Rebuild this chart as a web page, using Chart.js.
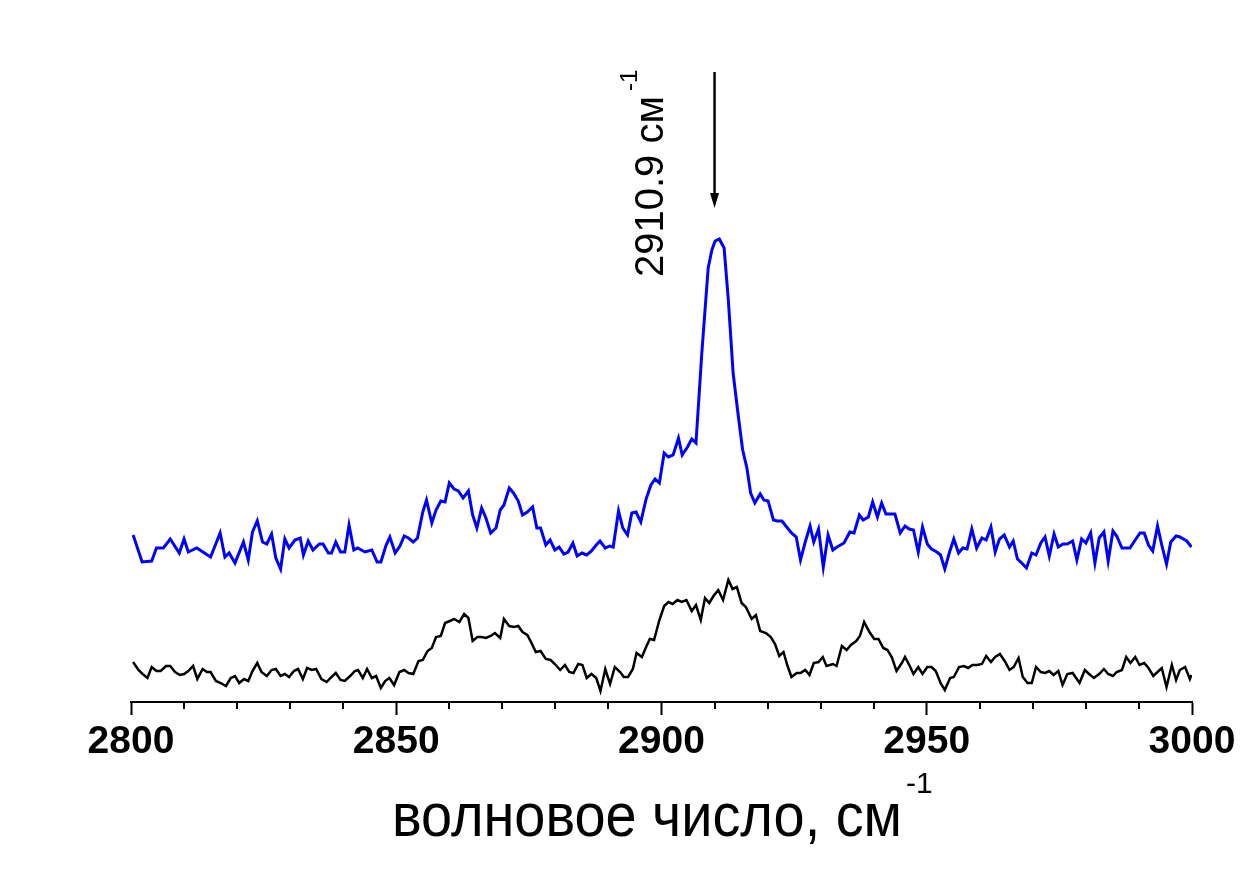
<!DOCTYPE html>
<html>
<head>
<meta charset="utf-8">
<title>Spectrum</title>
<script src="https://cdn.jsdelivr.net/npm/chart.js@4/dist/chart.umd.min.js"></script>
<style>
body{margin:0;background:#fff;}
#wrap{width:1251px;height:870px;position:relative;}
</style>
</head>
<body>
<div id="wrap"><canvas id="spectrumChart"></canvas></div>
<script>

// DATA (wavenumber, cm-1 / intensity, arb. units)
const blueWavenumber = [
2800.4,2802.1,2803.9,2804.8,2806.1,2807.4,2809.1,2810.0,2810.8,2812.4,
2815.0,2816.8,2817.7,2818.5,2819.6,2821.2,2822.1,2822.9,2823.8,2824.8,
2825.6,2826.5,2827.3,2828.2,2829.0,2829.8,2830.9,2831.9,2832.5,2833.4,
2834.3,2835.5,2836.2,2837.2,2837.8,2838.6,2839.5,2840.3,2841.1,2842.0,
2842.7,2844.1,2845.4,2846.4,2847.1,2848.1,2848.8,2849.8,2850.7,2851.5,
2852.3,2853.2,2854.0,2855.0,2855.7,2856.7,2857.5,2858.4,2859.2,2860.0,
2860.9,2861.7,2862.6,2863.6,2864.4,2865.2,2866.1,2866.9,2867.8,2868.8,
2869.6,2870.3,2871.3,2872.1,2873.0,2873.8,2874.7,2875.7,2876.5,2877.2,
2878.2,2879.0,2879.9,2880.7,2881.6,2882.4,2883.3,2884.1,2885.0,2885.9,
2886.8,2887.7,2888.4,2889.4,2890.2,2890.9,2891.9,2892.7,2893.6,2894.4,
2895.2,2896.1,2897.1,2898.0,2898.8,2899.6,2900.5,2901.3,2902.2,2903.2,
2903.9,2904.9,2905.7,2906.5,2907.6,2908.8,2909.5,2910.1,2910.9,2911.8,
2912.6,2913.5,2914.5,2915.3,2916.1,2916.8,2917.6,2918.6,2919.3,2920.1,
2921.1,2921.8,2922.7,2923.6,2924.5,2925.4,2926.2,2927.1,2928.0,2928.7,
2929.6,2930.5,2931.4,2932.3,2933.1,2934.4,2935.5,2936.3,2937.3,2938.0,
2939.0,2939.8,2940.7,2941.5,2942.3,2944.0,2945.0,2945.9,2946.7,2947.5,
2948.4,2949.2,2950.1,2950.9,2951.9,2952.6,2953.4,2954.3,2955.1,2956.0,
2956.8,2957.6,2958.5,2959.4,2960.4,2961.2,2962.1,2962.9,2963.7,2964.6,
2965.6,2966.3,2967.1,2967.9,2968.8,2969.8,2970.6,2971.5,2972.3,2973.1,
2974.0,2974.8,2975.7,2976.5,2977.5,2978.3,2979.2,2980.0,2980.9,2981.7,
2982.5,2983.4,2984.2,2985.1,2985.8,2986.8,2988.3,2989.3,2990.2,2991.0,
2991.8,2992.6,2993.5,2994.3,2995.2,2996.0,2997.0,2997.7,2999.0,2999.9
];
const blueIntensity = [
167,140,141,154,154,163,149,163,150,154,
145,169,145,149,139,160,142,170,181,160,
158,168,144,133,163,154,162,164,147,161,
152,158,158,149,149,160,150,150,177,152,
154,150,152,140,140,157,165,149,156,166,
164,160,164,190,202,179,192,201,200,219,
213,211,204,211,187,174,194,184,169,174,
192,197,214,209,201,187,190,195,174,174,
157,162,152,155,148,150,159,146,149,147,
151,157,161,154,156,155,191,174,167,189,
190,180,203,217,223,219,249,245,247,264,
247,255,263,259,349,434,452,461,463,454,
402,329,285,252,234,209,199,208,202,201,
182,181,181,175,169,165,142,160,176,160,
173,135,167,152,155,159,170,169,187,182,
185,200,185,199,188,188,169,176,173,172,
150,175,158,153,150,147,133,150,163,149,
154,153,173,154,164,162,175,150,163,167,
155,161,143,139,134,149,147,159,165,146,
168,155,158,158,161,142,163,159,169,139,
164,170,141,171,166,154,154,162,169,169,
157,151,176,157,138,160,166,165,161,155
];

const blackWavenumber = [
2800.4,2801.4,2802.2,2803.1,2803.9,2804.8,2805.6,2806.6,2807.4,2808.3,
2809.2,2810.0,2810.8,2811.7,2812.5,2813.5,2814.3,2815.0,2816.0,2816.9,
2817.9,2818.8,2819.6,2820.4,2821.3,2822.1,2822.9,2823.8,2824.6,2825.6,
2826.5,2827.3,2828.2,2829.0,2829.8,2830.7,2831.5,2832.4,2833.2,2834.1,
2834.9,2835.9,2836.9,2837.6,2838.6,2839.5,2840.3,2841.3,2842.2,2842.8,
2843.7,2844.5,2845.4,2846.2,2847.1,2847.9,2848.7,2849.6,2850.6,2851.5,
2852.3,2853.2,2854.2,2855.0,2855.9,2856.7,2857.5,2858.4,2859.2,2860.1,
2860.9,2861.9,2862.8,2863.6,2864.4,2865.3,2866.1,2866.9,2867.8,2868.6,
2869.6,2870.3,2871.3,2872.2,2873.0,2873.8,2874.7,2875.5,2876.3,2877.2,
2878.2,2879.1,2879.9,2880.9,2881.8,2882.6,2883.4,2884.3,2885.1,2885.9,
2886.8,2887.7,2888.5,2889.4,2890.3,2891.2,2892.2,2892.9,2893.7,2894.6,
2895.3,2896.3,2897.1,2897.8,2898.6,2899.6,2900.5,2901.3,2902.1,2903.0,
2903.8,2904.7,2905.7,2906.5,2907.4,2908.2,2909.0,2909.8,2910.7,2911.6,
2912.6,2913.4,2914.2,2915.1,2915.9,2917.0,2917.8,2918.6,2919.7,2920.6,
2921.4,2922.2,2923.0,2923.7,2924.5,2925.5,2926.2,2927.1,2927.9,2928.7,
2929.6,2930.4,2931.1,2932.3,2933.0,2934.0,2934.9,2935.7,2936.7,2937.4,
2938.2,2939.2,2940.1,2940.9,2941.8,2942.6,2943.4,2944.3,2945.3,2945.9,
2946.8,2947.5,2948.4,2949.2,2950.1,2950.9,2951.7,2952.6,2953.4,2954.4,
2955.1,2956.1,2957.0,2957.8,2958.6,2959.5,2960.4,2961.2,2962.1,2962.9,
2963.8,2964.8,2965.6,2966.4,2967.3,2968.1,2969.0,2969.8,2970.6,2971.5,
2972.3,2973.1,2973.9,2974.8,2975.6,2976.5,2977.5,2978.8,2979.8,2980.6,
2981.5,2982.5,2983.4,2984.2,2985.1,2985.8,2986.8,2987.6,2988.4,2989.3,
2990.1,2991.0,2991.8,2992.7,2993.5,2994.3,2995.2,2996.2,2997.0,2997.7,
2998.7,2999.6,2999.9
];
const blackIntensity = [
40,32,28,24,35,31,31,36,36,30,
27,28,31,36,23,33,30,30,21,19,
16,24,26,19,23,21,31,39,30,26,
32,33,26,28,25,31,33,23,34,32,
33,23,20,24,29,22,21,26,31,32,
24,33,24,26,14,21,24,17,30,32,
29,28,41,42,51,54,65,66,79,81,
83,80,88,84,61,65,65,64,66,69,
64,83,76,75,76,70,67,59,50,51,
43,42,38,32,37,30,29,38,37,24,
28,24,11,33,18,35,30,25,25,33,
49,45,55,63,62,82,96,100,98,102,
100,102,91,97,82,104,99,106,112,102,
122,113,115,99,95,83,87,71,69,65,
58,46,50,37,25,29,29,32,27,39,
40,45,36,38,36,56,52,57,61,66,
80,70,63,63,54,52,45,31,39,45,
36,28,35,28,35,35,31,19,12,24,
25,35,36,34,37,37,38,46,40,45,
48,40,32,35,44,25,19,19,35,30,
29,31,27,31,17,28,29,19,32,28,
24,28,33,28,26,30,32,45,39,45,
37,39,34,26,30,34,15,37,22,32,
35,23,27
];

const xTicks = [2800, 2850, 2900, 2950, 3000];
const xTitle = "волновое число, см";
const peakLabel = "2910.9 см";
const unitSup = "-1";

// annotation anchors (data units)
const arrowX = 2910;
const arrowTop = 630;
const arrowTip = 494;

const FONT = '"Liberation Sans", Arial, sans-serif';

// DECORATIONS: minor ticks, axis title, peak label + arrow
const decorations = {
id: "decorations",
afterDraw(chart){

const ctx = chart.ctx;
const xs = chart.scales.x;
const ys = chart.scales.y;
const base = chart.chartArea.bottom;

ctx.save();
ctx.strokeStyle = "#000";
ctx.fillStyle = "#000";

// minor ticks
ctx.lineWidth = 2;
xs.ticks.forEach(t=>{
if(xTicks.includes(t.value)) return;
const px = Math.round(xs.getPixelForValue(t.value));
ctx.beginPath();
ctx.moveTo(px, base);
ctx.lineTo(px, base + 7);
ctx.stroke();
});

// x title (slightly narrow)
ctx.textBaseline = "alphabetic";
ctx.textAlign = "left";
ctx.font = "62px " + FONT;
const w = ctx.measureText(xTitle).width;
ctx.save();
ctx.translate(392, 836);
ctx.scale(510 / w, 1);
ctx.fillText(xTitle, 0, 0);
ctx.restore();
ctx.font = "30px " + FONT;
ctx.fillText(unitSup, 906, 793);

// arrow
const ax = xs.getPixelForValue(arrowX);
const ay0 = ys.getPixelForValue(arrowTop);
const ay1 = ys.getPixelForValue(arrowTip);
ctx.lineWidth = 2.5;
ctx.beginPath();
ctx.moveTo(ax, ay0);
ctx.lineTo(ax, ay1 - 12);
ctx.stroke();
ctx.beginPath();
ctx.moveTo(ax - 4.5, ay1 - 15);
ctx.lineTo(ax + 4.5, ay1 - 15);
ctx.lineTo(ax, ay1);
ctx.closePath();
ctx.fill();

// rotated peak label
ctx.save();
ctx.translate(ax - 52, 277);
ctx.rotate(-Math.PI / 2);
ctx.font = "40px " + FONT;
ctx.fillText(peakLabel, 0, 0);
const lw = ctx.measureText(peakLabel).width;
ctx.font = "24px " + FONT;
ctx.fillText(unitSup, lw + 5, -26);
ctx.restore();

ctx.restore();

}
};

// CHART
const toPoints = (xsArr, ysArr) => xsArr.map((x,i)=>({x:x, y:ysArr[i]}));

new Chart(document.getElementById("spectrumChart"), {

type: "line",

data: {
datasets: [
{
label: "blue",
data: toPoints(blueWavenumber, blueIntensity),
borderColor: "#0000ff",
borderWidth: 3,
pointRadius: 0,
tension: 0
},
{
label: "black",
data: toPoints(blackWavenumber, blackIntensity),
borderColor: "#000000",
borderWidth: 2.5,
pointRadius: 0,
tension: 0
}
]
},

options: {
responsive: true,
maintainAspectRatio: false,
animation: false,
layout: { padding: { left: 131, right: 59, top: 60, bottom: 0 } },
plugins: {
legend: { display: false },
tooltip: { enabled: false }
},
scales: {
x: {
type: "linear",
min: 2800,
max: 3000,
afterFit(scale){ scale.height = 168; },
border: { display: true, color: "#000", width: 2 },
grid: {
display: true,
drawOnChartArea: false,
drawTicks: true,
tickLength: 13,
tickWidth: 2,
tickColor: c => (c.tick && xTicks.includes(c.tick.value)) ? "#000" : "rgba(0,0,0,0)"
},
ticks: {
stepSize: 10,
autoSkip: false,
maxRotation: 0,
padding: 4,
color: "#000",
font: { family: FONT, size: 39, weight: "bold" },
callback: v => xTicks.includes(v) ? String(v) : ""
}
},
y: {
display: false,
min: 0,
max: 642
}
}
},

plugins: [decorations]

});

</script>
</body>
</html>
